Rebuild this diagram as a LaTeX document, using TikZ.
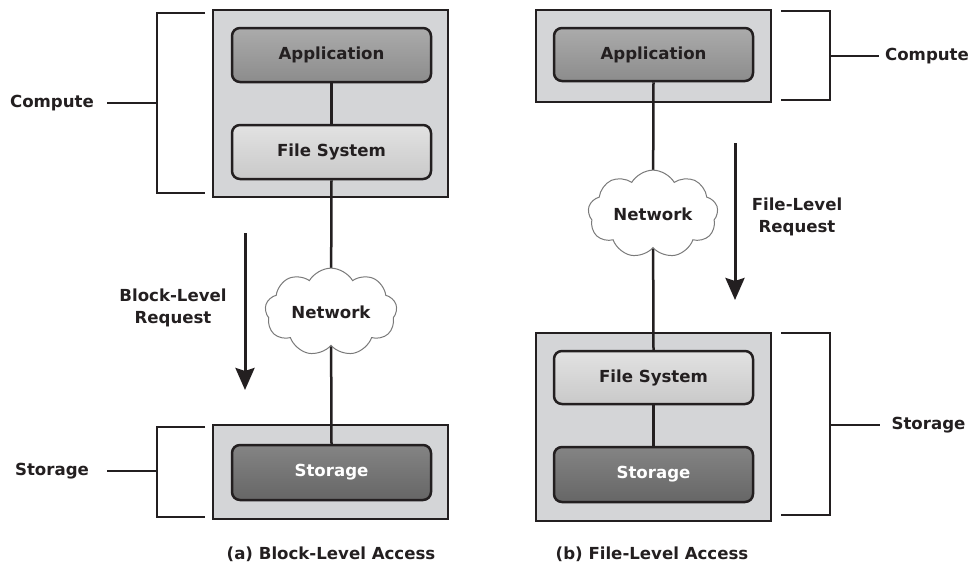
\documentclass[tikz,border=0pt]{standalone}
\usepackage{fontspec}
\setmainfont{DejaVu Sans}
\usetikzlibrary{shapes.symbols,arrows.meta}
\definecolor{ink}{HTML}{231F20}
\definecolor{boxgray}{HTML}{D4D5D7}
\definecolor{appTop}{HTML}{ABABAB}
\definecolor{appBot}{HTML}{8C8C8C}
\definecolor{fsTop}{HTML}{E2E2E2}
\definecolor{fsBot}{HTML}{C9C9C9}
\definecolor{stTop}{HTML}{848484}
\definecolor{stBot}{HTML}{666666}
\definecolor{cloudc}{HTML}{7A7A7A}
\pgfdeclarelayer{bg}
\pgfdeclarelayer{mid}
\pgfsetlayers{bg,mid,main}
\begin{document}
\begin{tikzpicture}[x=1pt,y=-1pt,
  lbl/.style={font=\fontsize{16.6}{22}\selectfont\bfseries, text=ink, align=center, inner sep=0pt},
  outer/.style={draw=ink, line width=2.6pt, fill=boxgray, inner sep=0pt, minimum width=235pt},
  layer/.style={lbl, draw=ink, line width=2.5pt, rounded corners=8pt, minimum width=199pt},
  appbox/.style={layer, top color=appTop, bottom color=appBot},
  fsbox/.style={layer, top color=fsTop, bottom color=fsBot},
  stbox/.style={layer, top color=stTop, bottom color=stBot, text=white},
  net/.style={lbl, cloud, cloud puffs=9, cloud puff arc=120, aspect=1.6, draw=cloudc, line width=1pt, fill=white, inner sep=0pt},
  conn/.style={draw=ink, line width=2.5pt},
  bracket/.style={draw=ink, line width=2.6pt},
  bigarrow/.style={draw=ink, line width=3pt, -{Stealth[width=19pt,length=22pt,inset=3pt]}}
]
\useasboundingbox (0,0) rectangle (972,565);

% outer boxes
\begin{pgfonlayer}{bg}
\node[outer, minimum height=187pt] (lcomp) at (330.5,103.5) {};
\node[outer, minimum height=94pt] (lstor) at (330.5,472) {};
\node[outer, minimum height=92pt] (rcomp) at (653.5,56) {};
\node[outer, minimum height=188pt] (rstor) at (653.5,427) {};
\end{pgfonlayer}

% left panel
\node[appbox, minimum height=54pt] (lapp) at (331.5,55) {Application};
\node[fsbox, minimum height=54pt] (lfs) at (331.5,152) {File System};
\node[net, minimum width=132pt, minimum height=80pt] (lnet) at (331,312) {Network};
\node[stbox, minimum height=55pt] (lst) at (331.5,472.5) {Storage};

% right panel
\node[appbox, minimum height=53pt] (rapp) at (653.5,54.5) {Application};
\node[net, minimum width=130pt, minimum height=84pt] (rnet) at (653,214) {Network};
\node[fsbox, minimum height=53pt] (rfs) at (653.5,377.5) {File System};
\node[stbox, minimum height=55pt] (rst) at (653.5,474.5) {Storage};

% connectors
\begin{pgfonlayer}{mid}
\draw[conn] (lapp.south) -- (lfs.north);
\draw[conn] (lfs.south) -- (lnet.center);
\draw[conn] (lnet.center) -- (lst.north);
\draw[conn] (rapp.south) -- (rnet.center);
\draw[conn] (rnet.center) -- (rfs.north);
\draw[conn] (rfs.south) -- (rst.north);
\end{pgfonlayer}

% brackets and side labels
\node[lbl] (lcompl) at (52,103) {Compute};
\node[lbl] (lstorl) at (52,471) {Storage};
\node[lbl] (rcompl) at (927,56) {Compute};
\node[lbl] (rstorl) at (928.5,425) {Storage};
\coordinate (lct) at (107,103);
\coordinate (lst2) at (107,471);
\coordinate (rct) at (879,56);
\coordinate (rst2) at (880,425);
\draw[bracket] (205,13) -- (157,13) -- (157,193) -- (205,193);
\draw[bracket] (157,103) -- (lct);
\draw[bracket] (205,427) -- (157,427) -- (157,517) -- (205,517);
\draw[bracket] (157,471) -- (lst2);
\draw[bracket] (781,11) -- (830,11) -- (830,100) -- (781,100);
\draw[bracket] (830,56) -- (rct);
\draw[bracket] (781,333) -- (830,333) -- (830,515) -- (781,515);
\draw[bracket] (830,425) -- (rst2);

% request arrows
\coordinate (la1) at (245,233);
\coordinate (la2) at (245,390);
\coordinate (ra1) at (735,143);
\coordinate (ra2) at (735,300);
\draw[bigarrow] (la1) -- (la2);
\draw[bigarrow] (ra1) -- (ra2);
\node[lbl] (lreq) at (173,308) {Block-Level\\Request};
\node[lbl] (rreq) at (797,216.5) {File-Level\\Request};

% captions
\node[lbl] (capa) at (331,554) {(a) Block-Level Access};
\node[lbl] (capb) at (652,554) {(b) File-Level Access};
\end{tikzpicture}
\end{document}
